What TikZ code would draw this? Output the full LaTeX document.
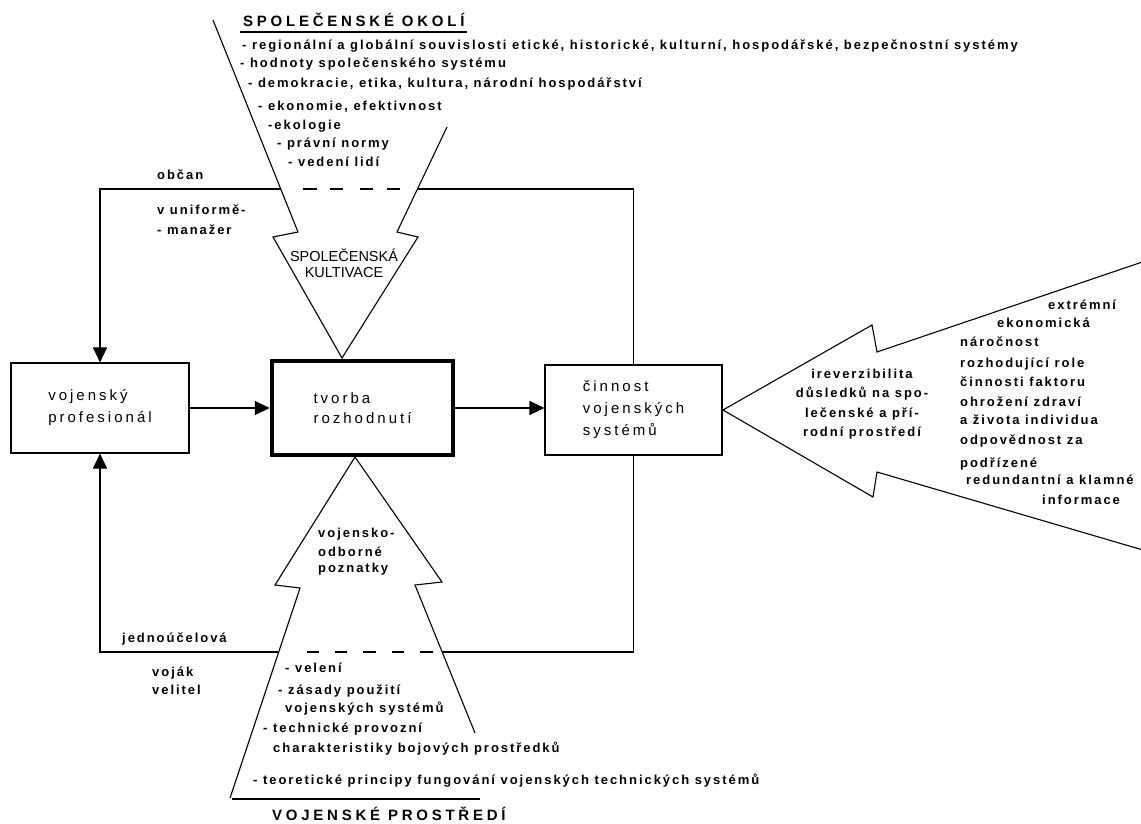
\documentclass[tikz,border=0pt]{standalone}
\usepackage{fontspec}
\setmainfont{Liberation Sans}
\newfontfamily\listfont[LetterSpace=15]{Liberation Sans}
\newfontfamily\boxfont[LetterSpace=20]{Liberation Sans}
\newfontfamily\titlefont[LetterSpace=25]{Liberation Sans}
\usetikzlibrary{arrows.meta}
\begin{document}
\begin{tikzpicture}[x=1pt,y=-1pt,
  line/.style={line width=1.1pt},
  tip/.style={-{Triangle[length=15pt,width=14pt]}},
  box/.style={draw,line width=1.1pt,inner sep=0pt,align=left,
    font=\boxfont\fontsize{15}{22}\selectfont},
  lst/.style={anchor=base west,inner sep=0pt,
    font=\listfont\bfseries\fontsize{13}{15}\selectfont},
  title/.style={anchor=base west,inner sep=0pt,
    font=\titlefont\bfseries\fontsize{15}{18}\selectfont}]
\useasboundingbox[fill=white] (0,0) rectangle (1141,823);

% main chain of boxes
\node[box,minimum width=178pt,minimum height=90pt] (prof) at (100,408) {vojenský\\profesionál};
\node[box,line width=4.5pt,minimum width=181pt,minimum height=94pt,
  font=\boxfont\fontsize{15}{20}\selectfont] (tvorba) at (362.5,408) {tvorba\\rozhodnutí};
\node[box,minimum width=177pt,minimum height=90pt] (cinnost) at (633.5,410) {činnost\\vojenských\\systémů};

\draw[line,tip] (prof.east) -- (tvorba.west);
\draw[line,tip] (tvorba.east) -- (tvorba.east -| cinnost.west);

% feedback loops with dashed passages through the block arrows
\coordinate (tL) at (281,189);
\coordinate (tR) at (418,189);
\coordinate (bL) at (278,652);
\coordinate (bR) at (442,652);
\draw[line] (cinnost.north) |- (tR);
\draw[line,dash pattern=on 0pt off 22pt on 14pt off 13pt on 13pt off 17pt on 13pt off 14pt on 13pt off 60pt] (tL) -- (tR);
\draw[line,tip] (tL) -| (prof.north);
\draw[line] (cinnost.south) |- (bR);
\draw[line,dash pattern=on 0pt off 29pt on 12pt off 16pt on 12pt off 16pt on 13pt off 16pt on 12pt off 16pt on 13pt off 40pt] (bL) -- (bR);
\draw[line,tip] (bL) -| (prof.south);

% block arrows
\draw[line] (213,20) -- (298,232) -- (273,237) -- (342,358) -- (418,237) -- (397,232) -- (447,127);
\draw[line] (230,798) -- (300,588) -- (275,585) -- (355,457) -- (442,582) -- (415,585) -- (475,733);
\draw[line] (1160,256) -- (877,352) -- (872,325) -- (723,410) -- (873,497) -- (877,472) -- (1160,555);

% headings
\node[title] (okoli) at (243,26) {SPOLEČENSKÉ OKOLÍ};
\draw[line] (240,32) -- (467,32);
\draw[line] (232,799) -- (480,799);
\node[title] (prostredi) at (272,820) {VOJENSKÉ PROSTŘEDÍ};

\node[inner sep=0pt,align=center,font=\fontsize{14.5}{15.5}\selectfont] (kult) at (344,263) {SPOLEČENSKÁ\\KULTIVACE};

% upper list
\foreach \n/\x/\y/\t in {
  a/242/49/{- regionální a globální souvislosti etické, historické, kulturní, hospodářské, bezpečnostní systémy},
  b/240/67/{- hodnoty společenského systému},
  c/248/87/{- demokracie, etika, kultura, národní hospodářství},
  d/258/110/{- ekonomie, efektivnost},
  e/268/129/{-ekologie},
  f/277/147/{- právní normy},
  g/288/166/{- vedení lidí}}
  \node[lst] (up-\n) at (\x,\y) {\t};

% roles along the loops
\foreach \n/\x/\y/\t in {
  a/157/179/{občan},
  b/157/214/{v uniformě-},
  c/157/234/{- manažer},
  d/122/642/{jednoúčelová},
  e/152/676/{voják},
  f/152/694/{velitel}}
  \node[lst] (role-\n) at (\x,\y) {\t};

% inside the lower block arrow
\foreach \n/\x/\y/\t in {
  a/318/537/{vojensko-},
  b/318/556/{odborné},
  c/318/572/{poznatky}}
  \node[lst] (know-\n) at (\x,\y) {\t};

% lower list
\foreach \n/\x/\y/\t in {
  a/285/672/{- velení},
  b/278/694/{- zásady použití},
  c/285/712/{vojenských systémů},
  d/263/732/{- technické provozní},
  e/273/752/{charakteristiky bojových prostředků},
  f/253/784/{- teoretické principy fungování vojenských technických systémů}}
  \node[lst] (low-\n) at (\x,\y) {\t};

% right block arrow
\node[inner sep=0pt,align=center,font=\listfont\bfseries\fontsize{13}{19.5}\selectfont] (irev) at (862,404)
  {ireverzibilita\\důsledků na spo-\\lečenské a pří-\\rodní prostředí};
\foreach \n/\x/\y/\t in {
  a/1048/309/{extrémní},
  b/997/327/{ekonomická},
  c/960/346/{náročnost},
  d/960/367/{rozhodující role},
  e/960/386/{činnosti faktoru},
  f/960/406/{ohrožení zdraví},
  g/960/424/{a života individua},
  h/960/444/{odpovědnost za},
  i/960/467/{podřízené},
  j/966/484/{redundantní a klamné},
  k/1042/504/{informace}}
  \node[lst] (risk-\n) at (\x,\y) {\t};
\end{tikzpicture}
\end{document}
